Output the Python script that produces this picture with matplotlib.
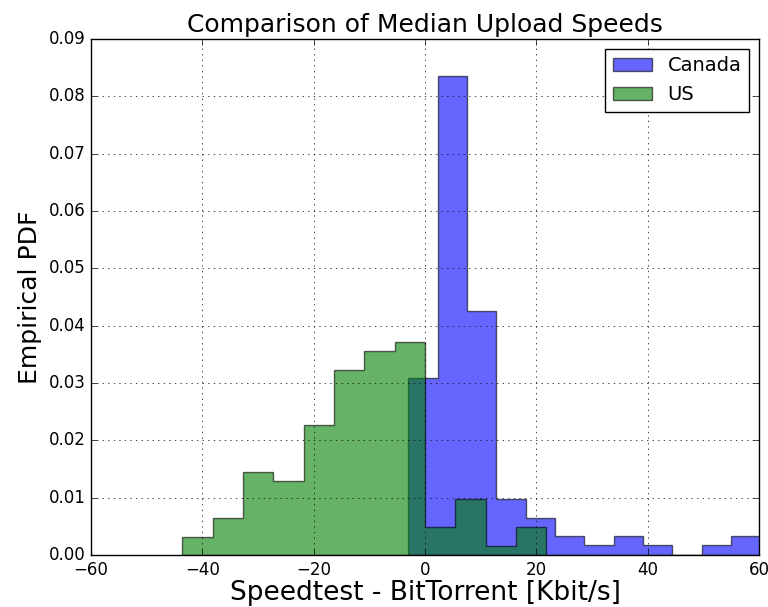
import numpy as np
import matplotlib
matplotlib.use("Agg")
import matplotlib.pyplot as plt

plt.style.use('classic')

# bin edges and empirical pdf heights
canada_edges = [-3.0, 2.27, 7.54, 12.81, 18.08, 23.35, 28.62, 33.89, 39.16, 44.43, 49.7, 54.97, 60.24]
canada_pdf = [0.0309, 0.0835, 0.0425, 0.0098, 0.0065, 0.0033, 0.0017, 0.0033, 0.0017, 0.0, 0.0017, 0.0033]

us_edges = [-43.6, -38.15, -32.7, -27.25, -21.8, -16.35, -10.9, -5.45, 0.0, 5.45, 10.9, 16.35, 21.8]
us_pdf = [0.0032, 0.0065, 0.0145, 0.0129, 0.0226, 0.0323, 0.0355, 0.0372, 0.0049, 0.0097, 0.0016, 0.0049]

fig = plt.figure(figsize=(7.68, 6.07), dpi=100, facecolor='white')
ax = fig.add_axes([0.1185, 0.0857, 0.8698, 0.8501])

ax.hist(canada_edges[:-1], bins=canada_edges, weights=canada_pdf, histtype='stepfilled',
        facecolor='b', edgecolor='k', linewidth=1, alpha=0.6, label='Canada')
ax.hist(us_edges[:-1], bins=us_edges, weights=us_pdf, histtype='stepfilled',
        facecolor='g', edgecolor='k', linewidth=1, alpha=0.6, label='US')

ax.set_xlim(-60, 60)
ax.set_ylim(0, 0.09)
ax.set_xticks(np.arange(-60, 61, 20))
ax.set_yticks(np.arange(0, 0.091, 0.01))
ax.yaxis.set_major_formatter(matplotlib.ticker.FormatStrFormatter('%.2f'))
ax.tick_params(labelsize=12)
ax.grid(True)

ax.set_title('Comparison of Median Upload Speeds', fontsize=18, pad=5)
ax.set_xlabel('Speedtest - BitTorrent [Kbit/s]', fontsize=19, labelpad=1)
ax.set_ylabel('Empirical PDF', fontsize=18)
ax.legend(loc='upper right', fontsize=14)

fig.savefig('out.png', dpi=100, facecolor='white')
